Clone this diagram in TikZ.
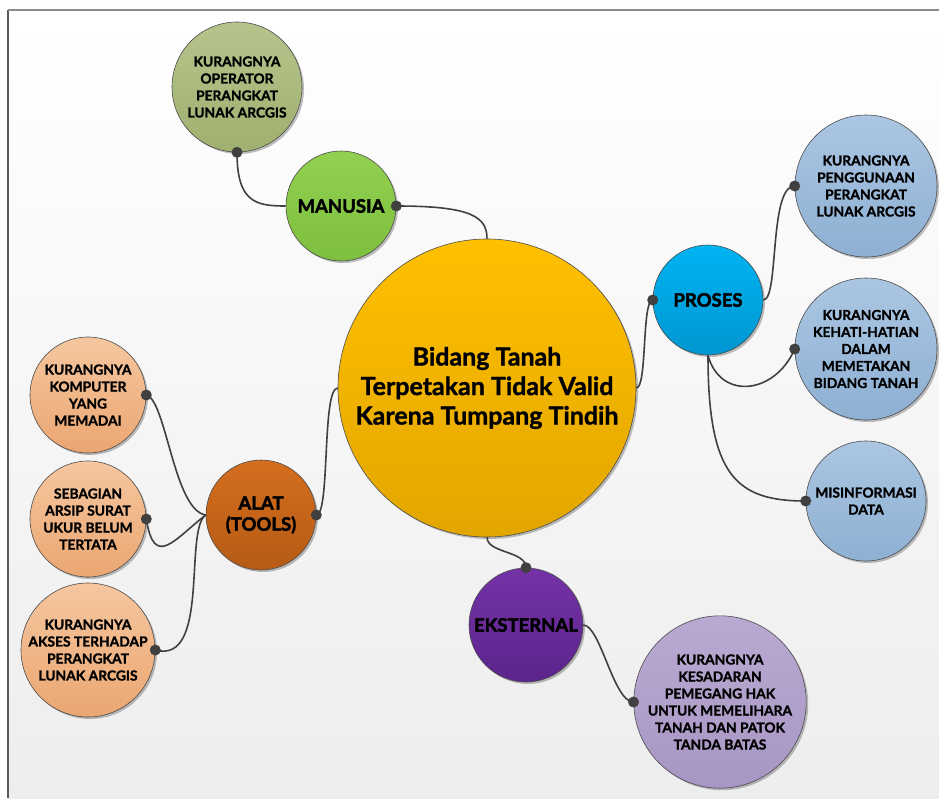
\documentclass[tikz,border=0pt]{standalone}
\usepackage{fontspec}
\setmainfont{Lato}
\newfontfamily\heavyA{Lato}[BoldFeatures={FakeBold=1.2}]
\newfontfamily\heavyB{Lato}[BoldFeatures={FakeBold=2.2}]
\usetikzlibrary{shadows}
\definecolor{linec}{HTML}{404040}
\definecolor{cenT}{HTML}{FFC000}\definecolor{cenB}{HTML}{E2A600}
\definecolor{manT}{HTML}{92D050}\definecolor{manB}{HTML}{7DBF3E}
\definecolor{opT}{HTML}{B6C48C}\definecolor{opB}{HTML}{9FB06F}
\definecolor{proT}{HTML}{00B4F2}\definecolor{proB}{HTML}{0096D2}
\definecolor{lbT}{HTML}{ABC6E2}\definecolor{lbB}{HTML}{8EB0D3}
\definecolor{alT}{HTML}{D46E1E}\definecolor{alB}{HTML}{B65B14}
\definecolor{peT}{HTML}{F5C7A0}\definecolor{peB}{HTML}{EBA671}
\definecolor{ekT}{HTML}{7432A6}\definecolor{ekB}{HTML}{5C248C}
\definecolor{liT}{HTML}{B9AAD2}\definecolor{liB}{HTML}{A796C3}
\tikzset{
  x=1pt, y=-1pt,
  bub/.style={circle, draw=black!70, line width=0.6pt, minimum size=#1, inner sep=0pt, align=center,
    drop shadow={shadow xshift=2pt, shadow yshift=-2pt, opacity=0.25, fill=black}},
  leaftext/.style={font=\heavyA\bfseries\fontsize{13.8}{17}\selectfont},
  cattext/.style={font=\heavyB\bfseries\fontsize{18.5}{21}\selectfont},
  conn/.style={draw=linec, line width=1.6pt},
  dot/.style={fill=linec, circle, inner sep=0pt, minimum size=11pt}
}
\begin{document}
\begin{tikzpicture}
\useasboundingbox (0,0) rectangle (939,798);
\fill[white] (0,0) rectangle (939,798);
\shade[top color=white, bottom color=black!7] (8,10) rectangle (939,798);
\draw[black!65, line width=1.5pt] (8,798) -- (8,10);
\draw[black!45, line width=1.5pt] (8,10) -- (939,10);

% nodes
\node[bub=298pt, top color=cenT, bottom color=cenB, font=\heavyA\bfseries\fontsize{25}{29.5}\selectfont] (cen) at (487,388) {Bidang Tanah\\Terpetakan Tidak Valid\\Karena Tumpang Tindih};

\node[bub=110pt, top color=manT, bottom color=manB, cattext] (man) at (341,206) {MANUSIA};
\node[bub=130pt, top color=opT, bottom color=opB, leaftext] (op) at (237,87) {KURANGNYA\\OPERATOR\\PERANGKAT\\LUNAK ARCGIS};

\node[bub=110pt, top color=proT, bottom color=proB, cattext] (pro) at (708,300) {PROSES};
\node[bub=142pt, top color=lbT, bottom color=lbB, leaftext] (pen) at (866,186) {KURANGNYA\\PENGGUNAAN\\PERANGKAT\\LUNAK ARCGIS};
\node[bub=142pt, top color=lbT, bottom color=lbB, leaftext] (keh) at (866,349) {KURANGNYA\\KEHATI-HATIAN\\DALAM\\MEMETAKAN\\BIDANG TANAH};
\node[bub=120pt, top color=lbT, bottom color=lbB, leaftext] (mis) at (866,501) {MISINFORMASI\\DATA};

\node[bub=110pt, top color=alT, bottom color=alB, cattext] (alat) at (261,515) {ALAT\\(TOOLS)};
\node[bub=116pt, top color=peT, bottom color=peB, leaftext] (kom) at (88,395) {KURANGNYA\\KOMPUTER\\YANG\\MEMADAI};
\node[bub=116pt, top color=peT, bottom color=peB, leaftext] (seb) at (88,519) {SEBAGIAN\\ARSIP SURAT\\UKUR BELUM\\TERTATA};
\node[bub=134pt, top color=peT, bottom color=peB, leaftext] (aks) at (88,650) {KURANGNYA\\AKSES TERHADAP\\PERANGKAT\\LUNAK ARCGIS};

\node[bub=114pt, top color=ekT, bottom color=ekB, cattext] (eks) at (526,625) {EKSTERNAL};
\node[bub=172pt, top color=liT, bottom color=liB, leaftext] (kes) at (720,702) {KURANGNYA\\KESADARAN\\PEMEGANG HAK\\UNTUK MEMELIHARA\\TANAH DAN PATOK\\TANDA BATAS};

% connectors
\draw[conn] (man.east) .. controls +(75,0) and +(0,-22) .. (cen.north);
\draw[conn] (op.south) .. controls +(0,50) and +(-30,0) .. (man.west);
\draw[conn] (cen.east) .. controls +(11,0) and +(-11,0) .. (pro.west);
\draw[conn] (pro.east) .. controls +(16,0) and +(-26,0) .. (pen.west);
\draw[conn] (pro.south) .. controls +(12,45) and +(-20,46) .. (keh.west);
\draw[conn] (pro.south) .. controls +(0,120) and +(-70,0) .. (mis.west);
\draw[conn] (cen.west) .. controls +(-16,0) and +(14,0) .. (alat.east);
\draw[conn] (kom.east) .. controls +(20,5) and +(-32,-5) .. (alat.west);
\draw[conn] (seb.east) .. controls +(8,50) and +(-32,25) .. (alat.west);
\draw[conn] (aks.east) .. controls +(55,15) and +(-22,15) .. (alat.west);
\draw[conn] (cen.south) .. controls +(0,16) and +(0,-17) .. (eks.north);
\draw[conn] (eks.east) .. controls +(17,0) and +(-20,0) .. (kes.west);

% dots at child ends
\foreach \a in {man.east, op.south, pro.west, pen.west, keh.west, mis.west, alat.east, kom.east, seb.east, aks.east, eks.north, kes.west}
  \node[dot] at (\a) {};
\end{tikzpicture}
\end{document}
